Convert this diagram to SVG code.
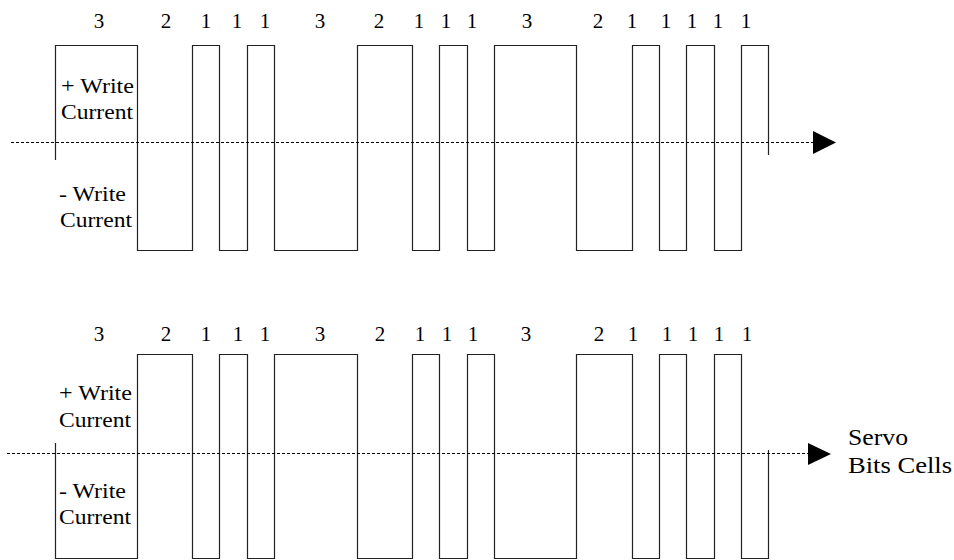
<svg xmlns="http://www.w3.org/2000/svg" width="954" height="560" viewBox="0 0 954 560">
<style>
.wave{fill:none;stroke:#222;stroke-width:1.2}
.axis{fill:none;stroke:#000;stroke-width:1;stroke-dasharray:3 2}
.head{fill:#000}
text{font-family:'Liberation Serif','Times New Roman',Times,serif;fill:#000}
.num{font-size:21px;text-anchor:middle}
.lbl{font-size:22px}
.big{font-size:24px}
</style>
<rect width="954" height="560" fill="#fff"/>
<g id="top-waveform">
<path class="wave" d="M55.5,160 V45.5 H137.5 V250.5 H192.5 V45.5 H219.5 V250.5 H247.5 V45.5 H274.5 V250.5 H357.5 V45.5 H412.5 V250.5 H439.5 V45.5 H467.5 V250.5 H494.5 V45.5 H576.5 V250.5 H632.5 V45.5 H659.5 V250.5 H686.5 V45.5 H714.5 V250.5 H741.5 V45.5 H768.5 V155"/>
</g>
<g id="top-labels">
<text class="num" y="28"><tspan x="99">3</tspan><tspan x="166">2</tspan><tspan x="206">1</tspan><tspan x="237">1</tspan><tspan x="265">1</tspan><tspan x="320">3</tspan><tspan x="379">2</tspan><tspan x="419">1</tspan><tspan x="446">1</tspan><tspan x="472">1</tspan><tspan x="527">3</tspan><tspan x="598">2</tspan><tspan x="632">1</tspan><tspan x="666">1</tspan><tspan x="692">1</tspan><tspan x="718">1</tspan><tspan x="746">1</tspan></text>
<text class="lbl" x="61" y="93" textLength="73" lengthAdjust="spacingAndGlyphs">+ Write</text>
<text class="lbl" x="61" y="119" textLength="72" lengthAdjust="spacingAndGlyphs">Current</text>
<text class="lbl" x="59" y="201" textLength="67" lengthAdjust="spacingAndGlyphs">- Write</text>
<text class="lbl" x="60" y="227" textLength="72" lengthAdjust="spacingAndGlyphs">Current</text>
</g>
<g id="bottom-waveform">
<path class="wave" d="M55.5,443 V558.5 H137.5 V354.5 H192.5 V558.5 H219.5 V354.5 H247.5 V558.5 H274.5 V354.5 H357.5 V558.5 H412.5 V354.5 H439.5 V558.5 H467.5 V354.5 H494.5 V558.5 H576.5 V354.5 H632.5 V558.5 H659.5 V354.5 H686.5 V558.5 H714.5 V354.5 H741.5 V558.5 H768.5 V450"/>
</g>
<g id="bottom-labels">
<text class="num" y="341"><tspan x="99">3</tspan><tspan x="166">2</tspan><tspan x="206">1</tspan><tspan x="238">1</tspan><tspan x="265">1</tspan><tspan x="320">3</tspan><tspan x="380">2</tspan><tspan x="420">1</tspan><tspan x="447">1</tspan><tspan x="473">1</tspan><tspan x="526">3</tspan><tspan x="599">2</tspan><tspan x="633">1</tspan><tspan x="667">1</tspan><tspan x="693">1</tspan><tspan x="719">1</tspan><tspan x="747">1</tspan></text>
<text class="lbl" x="59" y="400" textLength="73" lengthAdjust="spacingAndGlyphs">+ Write</text>
<text class="lbl" x="59" y="427" textLength="72" lengthAdjust="spacingAndGlyphs">Current</text>
<text class="lbl" x="59" y="498" textLength="67" lengthAdjust="spacingAndGlyphs">- Write</text>
<text class="lbl" x="59" y="524" textLength="72" lengthAdjust="spacingAndGlyphs">Current</text>
<text class="big" x="848" y="445" textLength="60" lengthAdjust="spacingAndGlyphs">Servo</text>
<text class="big" x="848" y="473" textLength="104" lengthAdjust="spacingAndGlyphs">Bits Cells</text>
</g>
<g id="connectors">
<line class="axis" x1="11" y1="142.5" x2="813" y2="142.5"/>
<polygon class="head" points="813,131 836,142.5 813,154"/>
<line class="axis" x1="7" y1="453.5" x2="808" y2="453.5"/>
<polygon class="head" points="808,443 831,454 808,465"/>
</g>
</svg>
